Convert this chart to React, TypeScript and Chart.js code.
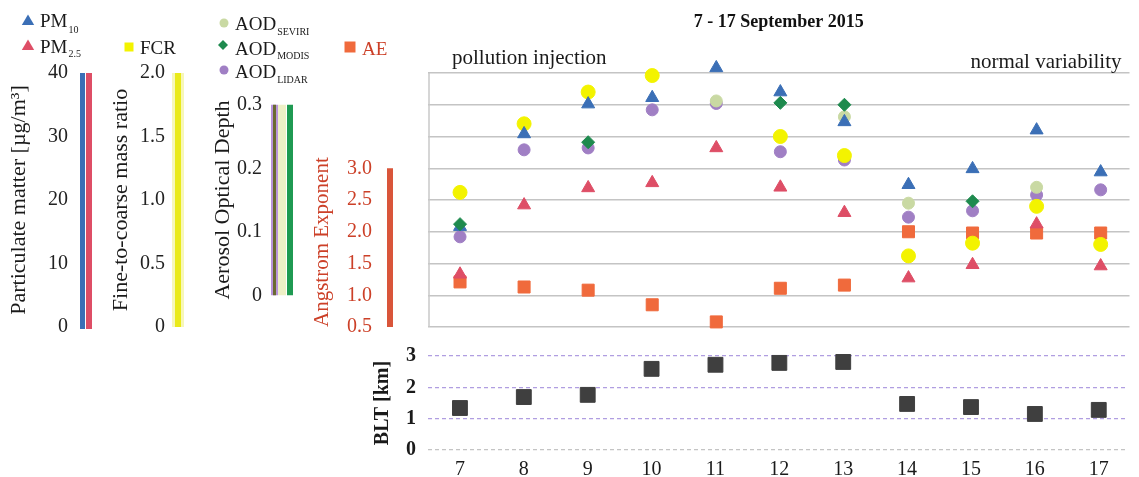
import React, { useEffect, useRef } from 'react';
import { Chart, registerables } from 'chart.js';

Chart.register(...registerables);

const SERIF = '"Liberation Serif", "Times New Roman", serif';

// ---------------- data ----------------
const days = [7, 8, 9, 10, 11, 12, 13, 14, 15, 16, 17];
const pm10 = [15.8, 30.4, 35.1, 36.1, 40.8, 37.0, 32.3, 22.4, 24.9, 31.0, 24.4];
const pm25 = [8.3, 19.2, 21.9, 22.7, 28.2, 22.0, 18.0, 7.7, 9.8, 16.2, 9.6];
const fcr = [1.06, 1.6, 1.85, 1.98, 2.1, 1.5, 1.35, 0.56, 0.66, 0.95, 0.65];
const aodSeviri = [null, null, null, null, 0.306, null, 0.281, 0.145, null, 0.17, null];
const aodModis = [0.112, null, 0.241, null, null, 0.303, 0.3, null, 0.148, null, null];
const aodLidar = [0.092, 0.229, 0.232, 0.292, 0.302, 0.226, 0.213, 0.123, 0.133, 0.158, 0.166];
const ae = [1.21, 1.13, 1.08, 0.85, 0.58, 1.11, 1.16, 2.0, 1.98, 1.98, 1.98];
const blt = [1.34, 1.69, 1.76, 2.59, 2.72, 2.78, 2.81, 1.47, 1.37, 1.15, 1.28];

// tick values (grid) and the ones that carry a label
const pmGrid = [0, 5, 10, 15, 20, 25, 30, 35, 40];
const pmLabels = [0, 10, 20, 30, 40];
const fcrGrid = [0, 0.25, 0.5, 0.75, 1, 1.25, 1.5, 1.75, 2];
const fcrLabels = [0, 0.5, 1, 1.5, 2];
const aodGrid = [-0.05, 0, 0.05, 0.1, 0.15, 0.2, 0.25, 0.3, 0.35];
const aodLabels = [0, 0.1, 0.2, 0.3];
const aeGrid = [0.5, 1, 1.5, 2, 2.5, 3, 3.5, 4, 4.5];
const aeLabels = [0.5, 1, 1.5, 2, 2.5, 3];
const bltGrid = [0, 1, 2, 3];

const C = {
  pm10: '#3b6fb6',
  pm25: '#de4e66',
  fcr: '#f3f300',
  seviri: '#c9d9a3',
  modis: '#1e8a4e',
  lidar: '#a07fc4',
  ae: '#f06a3c',
  blt: '#3f3f3f',
  aeText: '#cc4028',
};

const has = (list: number[], v: number) => list.some((l) => Math.abs(l - v) < 1e-9);
const pts = (vals: (number | null)[]) =>
  days.map((d, i) => ({ x: d, y: vals[i] })).filter((p) => p.y !== null);

const ds = (label: string, vals: (number | null)[], axis: string, style: string, color: string, radius: number) => ({
  label,
  data: pts(vals),
  yAxisID: axis,
  pointStyle: style,
  pointRadius: radius,
  pointHoverRadius: radius,
  backgroundColor: color,
  borderColor: color,
  borderWidth: 1,
  clip: false,
});

const sideAxis = (o: any) => ({
  type: 'linear',
  position: 'left',
  weight: o.weight,
  min: o.min,
  max: o.max,
  afterBuildTicks: (s: any) => {
    s.ticks = o.grid.map((v: number) => ({ value: v }));
  },
  afterFit: (s: any) => {
    s.width = o.width;
    s.paddingTop = 0;
    s.paddingBottom = 0;
  },
  grid: {
    display: true,
    drawOnChartArea: !!o.drawGrid,
    drawTicks: true,
    tickLength: o.pad,
    tickColor: 'rgba(0,0,0,0)',
    color: '#c4c4c4',
    lineWidth: 1.5,
  },
  border: { display: false },
  ticks: {
    padding: 0,
    color: o.color,
    autoSkip: false,
    font: { family: SERIF, size: 20 },
    callback: (v: number) => (has(o.labels, v) ? o.fmt(v) : ''),
  },
  title: {
    display: true,
    text: o.title,
    color: o.titleColor,
    align: o.align || 'center',
    font: { family: SERIF, size: o.titleSize || 22 },
    padding: { top: o.titlePad, bottom: 0 },
  },
});

const mark = (ctx: CanvasRenderingContext2D, shape: string, color: string, x: number, y: number, r: number) => {
  ctx.fillStyle = color;
  ctx.beginPath();
  if (shape === 'triangle') {
    ctx.moveTo(x, y - r);
    ctx.lineTo(x + r * 0.95, y + r * 0.6);
    ctx.lineTo(x - r * 0.95, y + r * 0.6);
    ctx.closePath();
  } else if (shape === 'rect') {
    ctx.rect(x - r, y - r, 2 * r, 2 * r);
  } else if (shape === 'rectRot') {
    ctx.moveTo(x, y - r);
    ctx.lineTo(x + r, y);
    ctx.lineTo(x, y + r);
    ctx.lineTo(x - r, y);
    ctx.closePath();
  } else {
    ctx.arc(x, y, r, 0, Math.PI * 2);
  }
  ctx.fill();
};

const label = (ctx: CanvasRenderingContext2D, main: string, sub: string, x: number, y: number, subDy: number, color: string) => {
  ctx.fillStyle = color;
  ctx.textAlign = 'left';
  ctx.textBaseline = 'alphabetic';
  ctx.font = `19px ${SERIF}`;
  ctx.fillText(main, x, y);
  if (sub) {
    const w = ctx.measureText(main).width;
    ctx.font = `10px ${SERIF}`;
    ctx.fillText(sub, x + w + 1, y + subDy);
  }
};

const decor = {
  id: 'decor',
  beforeDatasetsDraw(chart: any) {
    const { ctx, chartArea: a, scales: s } = chart;
    ctx.save();
    ctx.strokeStyle = '#c8c8c8';
    ctx.lineWidth = 1.5;
    ctx.beginPath();
    ctx.moveTo(a.left + 1, a.top);
    ctx.lineTo(a.left + 1, a.bottom);
    ctx.stroke();

    const bar = (color: string, x0: number, x1: number, y0: number, y1: number) => {
      ctx.fillStyle = color;
      ctx.fillRect(x0, Math.min(y0, y1), x1 - x0, Math.abs(y1 - y0));
    };
    const pm = s.pm, f = s.fcr, ao = s.aod, e = s.ae;
    bar(C.pm10, pm.right - 20, pm.right - 15, pm.getPixelForValue(40), pm.getPixelForValue(0) + 2);
    bar(C.pm25, pm.right - 14, pm.right - 8, pm.getPixelForValue(40), pm.getPixelForValue(0) + 2);
    bar('#f7f7b8', f.right - 28, f.right - 16, f.getPixelForValue(2), f.getPixelForValue(0));
    bar('#eaea18', f.right - 25, f.right - 19, f.getPixelForValue(2), f.getPixelForValue(0));
    bar('#b894da', ao.right - 34, ao.right - 27, ao.getPixelForValue(0.3), ao.getPixelForValue(0));
    bar('#6a6a30', ao.right - 32, ao.right - 29, ao.getPixelForValue(0.3), ao.getPixelForValue(0));
    bar('#eef0c6', ao.right - 27, ao.right - 19, ao.getPixelForValue(0.3), ao.getPixelForValue(0));
    bar('#1f9a52', ao.right - 18, ao.right - 12, ao.getPixelForValue(0.3), ao.getPixelForValue(0));
    bar('#d9553a', e.right - 41, e.right - 35, e.getPixelForValue(3), e.getPixelForValue(0.5));
    ctx.restore();
  },
  afterDraw(chart: any) {
    const { ctx, chartArea: a } = chart;
    ctx.save();
    ctx.fillStyle = '#1a1a1a';
    ctx.font = `21px ${SERIF}`;
    ctx.textBaseline = 'alphabetic';
    ctx.textAlign = 'left';
    ctx.fillText('pollution injection', a.left + 24, a.top - 9);
    ctx.textAlign = 'right';
    ctx.fillText('normal variability', a.right - 8, a.top - 5);

    mark(ctx, 'triangle', C.pm10, 28, 21, 6.5);
    label(ctx, 'PM', '10', 40, 27, 6, '#1a1a1a');
    mark(ctx, 'triangle', C.pm25, 28, 46, 6.5);
    label(ctx, 'PM', '2.5', 40, 53, 4, '#1a1a1a');
    mark(ctx, 'rect', C.fcr, 129, 47, 4.5);
    label(ctx, 'FCR', '', 140, 54, 0, '#1a1a1a');
    mark(ctx, 'circle', C.seviri, 224, 23, 4.5);
    label(ctx, 'AOD', 'SEVIRI', 235, 30, 5, '#1a1a1a');
    mark(ctx, 'rectRot', C.modis, 223, 45, 5);
    label(ctx, 'AOD', 'MODIS', 235, 55, 4, '#1a1a1a');
    mark(ctx, 'circle', C.lidar, 224, 70, 4.5);
    label(ctx, 'AOD', 'LIDAR', 235, 78, 5, '#1a1a1a');
    mark(ctx, 'rect', C.ae, 350, 47, 5.5);
    label(ctx, 'AE', '', 362, 55, 0, C.aeText);
    ctx.restore();
  },
};

const mainConfig = (): any => ({
  type: 'scatter',
  data: {
    datasets: [
      ds('AOD MODIS', aodModis, 'aod', 'rectRot', C.modis, 6.5),
      ds('PM10', pm10, 'pm', 'triangle', C.pm10, 7.5),
      ds('FCR', fcr, 'fcr', 'circle', C.fcr, 7),
      ds('PM2.5', pm25, 'pm', 'triangle', C.pm25, 7.5),
      ds('AOD SEVIRI', aodSeviri, 'aod', 'circle', C.seviri, 6),
      ds('AOD LIDAR', aodLidar, 'aod', 'circle', C.lidar, 6),
      ds('AE', ae, 'ae', 'rect', C.ae, 8.5),
    ],
  },
  options: {
    animation: false,
    responsive: false,
    layout: { padding: { left: 0, right: 0, top: 0, bottom: 13 } },
    plugins: {
      legend: { display: false },
      tooltip: { enabled: false },
      title: {
        display: true,
        fullSize: false,
        text: '7 - 17 September 2015',
        color: '#111',
        font: { family: SERIF, size: 18, weight: 'bold' },
        padding: { top: 12, bottom: 39.4 },
      },
    },
    scales: {
      x: { type: 'linear', min: 6.5, max: 17.45, display: false },
      pm: sideAxis({
        weight: 4, min: 0, max: 40, grid: pmGrid, labels: pmLabels, width: 100, pad: 32, drawGrid: true,
        color: '#222', fmt: (v: number) => String(v),
        title: 'Particulate matter [µg/m³]', titleColor: '#1a1a1a', titlePad: 6,
      }),
      fcr: sideAxis({
        weight: 3, min: 0, max: 2, grid: fcrGrid, labels: fcrLabels, width: 100, pad: 35,
        color: '#222', fmt: (v: number) => (v === 0 ? '0' : v.toFixed(1)),
        title: 'Fine-to-coarse mass ratio', titleColor: '#1a1a1a', titlePad: 8,
      }),
      aod: sideAxis({
        weight: 2, min: -0.05, max: 0.35, grid: aodGrid, labels: aodLabels, width: 105, pad: 43,
        color: '#222', fmt: (v: number) => (Math.abs(v) < 1e-9 ? '0' : v.toFixed(1)),
        title: 'Aerosol Optical Depth', titleColor: '#1a1a1a', titlePad: 10,
      }),
      ae: sideAxis({
        weight: 1, min: 0.5, max: 4.5, grid: aeGrid, labels: aeLabels, width: 123, pad: 56,
        color: C.aeText, fmt: (v: number) => v.toFixed(1),
        title: 'Angstrom Exponent', titleColor: C.aeText, titlePad: 5, align: 'start', titleSize: 21,
      }),
    },
  },
  plugins: [decor],
});

const bltConfig = (): any => ({
  type: 'scatter',
  data: {
    datasets: [
      {
        label: 'BLT',
        data: pts(blt),
        pointStyle: 'rect',
        pointRadius: 10.5,
        pointHoverRadius: 10.5,
        backgroundColor: C.blt,
        borderColor: C.blt,
        clip: false,
      },
    ],
  },
  options: {
    animation: false,
    responsive: false,
    layout: { padding: { left: 368, right: 0, top: 16, bottom: 0 } },
    plugins: { legend: { display: false }, tooltip: { enabled: false } },
    scales: {
      x: {
        type: 'linear',
        min: 6.5,
        max: 17.45,
        afterBuildTicks: (s: any) => {
          s.ticks = days.map((v) => ({ value: v }));
        },
        afterFit: (s: any) => {
          s.height = 27;
          s.paddingLeft = 0;
          s.paddingRight = 0;
        },
        grid: { display: false },
        border: { display: false },
        ticks: { padding: 0, color: '#1a1a1a', autoSkip: false, maxRotation: 0, font: { family: SERIF, size: 20 }, callback: (v: number) => String(v) },
      },
      y: {
        type: 'linear',
        min: 0,
        max: 3,
        afterBuildTicks: (s: any) => {
          s.ticks = bltGrid.map((v) => ({ value: v }));
        },
        afterFit: (s: any) => {
          s.width = 60;
          s.paddingTop = 0;
          s.paddingBottom = 0;
        },
        grid: {
          drawTicks: true,
          tickLength: 12,
          tickColor: 'rgba(0,0,0,0)',
          lineWidth: 1.2,
          color: (c: any) => (c.tick && c.tick.value === 0 ? '#c4c4c4' : 'rgba(150,125,215,0.75)'),
        },
        border: { display: false, dash: [4, 3] },
        ticks: { padding: 0, color: '#1a1a1a', font: { family: SERIF, size: 20, weight: 'bold' }, callback: (v: number) => String(v) },
        title: { display: true, text: 'BLT [km]', color: '#1a1a1a', font: { family: SERIF, size: 20, weight: 'bold' }, padding: { top: 3, bottom: 0 } },
      },
    },
  },
});

export default function App() {
  const mainRef = useRef<HTMLCanvasElement>(null);
  const bltRef = useRef<HTMLCanvasElement>(null);
  useEffect(() => {
    Chart.defaults.font.family = SERIF;
    const main = new Chart(mainRef.current as HTMLCanvasElement, mainConfig());
    const lower = new Chart(bltRef.current as HTMLCanvasElement, bltConfig());
    return () => {
      main.destroy();
      lower.destroy();
    };
  }, []);
  return (
    <div style={{ position: 'fixed', left: 0, top: 0, width: 1139, height: 477, background: '#fff' }}>
      <canvas ref={mainRef} width={1139} height={340} style={{ position: 'absolute', left: 0, top: 0, width: 1139, height: 340 }} />
      <canvas ref={bltRef} width={1139} height={137} style={{ position: 'absolute', left: 0, top: 340, width: 1139, height: 137 }} />
    </div>
  );
}
